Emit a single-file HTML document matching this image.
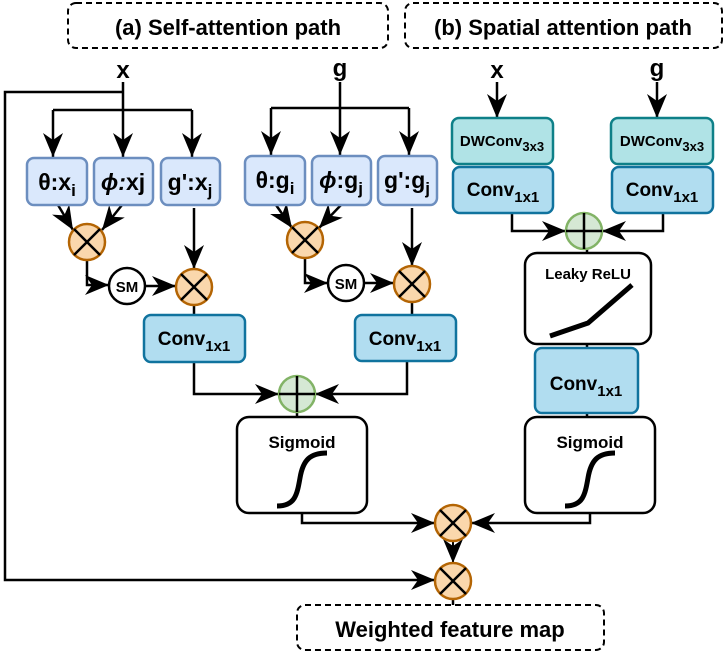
<!DOCTYPE html>
<html><head><meta charset="utf-8"><style>
html,body{margin:0;padding:0;background:#fff;}
svg{display:block;}
text{font-family:"Liberation Sans",sans-serif;font-weight:bold;fill:#000;}
</style></head><body>
<svg width="725" height="654" viewBox="0 0 725 654" xmlns="http://www.w3.org/2000/svg">
<defs>
<marker id="a" viewBox="0 0 24 22" refX="24" refY="11" markerWidth="24" markerHeight="22" orient="auto" markerUnits="userSpaceOnUse">
<path d="M0,1 L24,11 L0,21 L7,11 Z" fill="#000"/>
</marker>
</defs>
<g fill="none" stroke="#000" stroke-width="2.5">
<rect x="68" y="3" width="320" height="45" rx="8" stroke-dasharray="6,4" stroke-width="2"/>
<rect x="405" y="3" width="317" height="45" rx="8" stroke-dasharray="6,4" stroke-width="2"/>
<rect x="297" y="605" width="307" height="45" rx="8" stroke-dasharray="6,4" stroke-width="2"/>
<path d="M123,82 V157" marker-end="url(#a)"/>
<path d="M123,92 H5 V580 H435" marker-end="url(#a)"/>
<path d="M53,110 H192"/>
<path d="M53,110 V157" marker-end="url(#a)"/>
<path d="M192,110 V157" marker-end="url(#a)"/>
<path d="M340,82 V155" marker-end="url(#a)"/>
<path d="M271,108 H409"/>
<path d="M271,108 V155" marker-end="url(#a)"/>
<path d="M409,108 V155" marker-end="url(#a)"/>
<path d="M58,205 L73,230" marker-end="url(#a)"/>
<path d="M122,205 L102,230" marker-end="url(#a)"/>
<path d="M194,208 V269" marker-end="url(#a)"/>
<path d="M87,260 V285 H109" marker-end="url(#a)"/>
<path d="M145,286 H176" marker-end="url(#a)"/>
<path d="M194,305 V315"/>
<path d="M194,362 V394 H279" marker-end="url(#a)"/>
<path d="M276,205 L292,228" marker-end="url(#a)"/>
<path d="M341,205 L319,228" marker-end="url(#a)"/>
<path d="M412,208 V266" marker-end="url(#a)"/>
<path d="M305,258 V283 H328" marker-end="url(#a)"/>
<path d="M364,283 H394" marker-end="url(#a)"/>
<path d="M412,302 V315"/>
<path d="M407,361 V394 H315" marker-end="url(#a)"/>
<path d="M297,412 V417"/>
<path d="M302,513 V523 H435" marker-end="url(#a)"/>
<path d="M590,513 V523 H471" marker-end="url(#a)"/>
<path d="M453,541 V563" marker-end="url(#a)" stroke-width="2"/>
<path d="M453,599 V605"/>
<path d="M497,82 V118" marker-end="url(#a)"/>
<path d="M657,82 V118" marker-end="url(#a)"/>
<path d="M512,213 V231 H566" marker-end="url(#a)"/>
<path d="M663,213 V231 H602" marker-end="url(#a)"/>
<path d="M587,249 V253"/>
<path d="M587,344 V348"/>
<path d="M587,413 V417"/>
</g>
<g fill="#dae8fc" stroke="#6c8ebf" stroke-width="2.5">
<rect x="27" y="158" width="60" height="47" rx="7"/>
<rect x="94" y="158" width="59" height="47" rx="7"/>
<rect x="161" y="158" width="59" height="47" rx="7"/>
<rect x="245" y="156" width="60" height="49" rx="7"/>
<rect x="312" y="156" width="59" height="49" rx="7"/>
<rect x="378" y="156" width="59" height="49" rx="7"/>
</g>
<g fill="#b1ddf0" stroke="#10739e" stroke-width="2.5">
<rect x="144" y="315" width="101" height="47" rx="7"/>
<rect x="355" y="315" width="101" height="46" rx="7"/>
<rect x="453" y="167" width="100" height="46" rx="7"/>
<rect x="612" y="167" width="101" height="46" rx="7"/>
<rect x="535" y="348" width="103" height="65" rx="7"/>
</g>
<g fill="#b0e3e6" stroke="#0e8088" stroke-width="2.5">
<rect x="452" y="118" width="101" height="46" rx="7"/>
<rect x="611" y="118" width="102" height="46" rx="7"/>
</g>
<g fill="#fff" stroke="#000" stroke-width="2.5">
<rect x="237" y="417" width="130" height="96" rx="12"/>
<rect x="525" y="417" width="130" height="96" rx="12"/>
<rect x="525" y="253" width="126" height="91" rx="12"/>
<circle cx="127" cy="286" r="18"/>
<circle cx="346" cy="283" r="18"/>
</g>
<g fill="none" stroke="#000" stroke-width="5">
<path d="M277,506 C295,506 297,495 300,478 C303,460 310,453 327,453"/>
<path d="M565,506 C583,506 585,495 588,478 C591,460 598,453 615,453"/>
<path d="M550,336 L588,323 L632,285"/>
</g>
<g stroke="#b46504" stroke-width="2.5" fill="#fad7ac">
<circle cx="87" cy="242" r="18"/>
<circle cx="194" cy="287" r="18"/>
<circle cx="305" cy="240" r="18"/>
<circle cx="412" cy="284" r="18"/>
<circle cx="453" cy="523" r="18"/>
<circle cx="453" cy="581" r="18"/>
</g>
<g stroke="#000" stroke-width="2.5">
<path d="M74,229 L100,255 M100,229 L74,255"/>
<path d="M181,274 L207,300 M207,274 L181,300"/>
<path d="M292,227 L318,253 M318,227 L292,253"/>
<path d="M399,271 L425,297 M425,271 L399,297"/>
<path d="M440,510 L466,536 M466,510 L440,536"/>
<path d="M440,568 L466,594 M466,568 L440,594"/>
</g>
<g stroke="#82b366" stroke-width="2.5" fill="#d5e8d4">
<circle cx="297" cy="394" r="18"/>
<circle cx="584" cy="231" r="18"/>
</g>
<g stroke="#000" stroke-width="2.5">
<path d="M297,376 V412 M279,394 H315"/>
<path d="M584,213 V249 M566,231 H602"/>
</g>
<text x="228" y="35" font-size="22" text-anchor="middle">(a) Self-attention path</text>
<text x="563" y="35" font-size="22" text-anchor="middle">(b) Spatial attention path</text>
<text x="450" y="637" font-size="22" text-anchor="middle">Weighted feature map</text>
<text x="123" y="78" font-size="24" text-anchor="middle">x</text>
<text x="340" y="76" font-size="24" text-anchor="middle">g</text>
<text x="497" y="78" font-size="24" text-anchor="middle">x</text>
<text x="657" y="76" font-size="24" text-anchor="middle">g</text>
<text x="57" y="190" font-size="23" text-anchor="middle">θ:x<tspan font-size="17" dy="6">i</tspan></text>
<text x="123" y="190" font-size="23" text-anchor="middle"><tspan font-style="italic">ϕ:</tspan>xj</text>
<text x="190" y="190" font-size="23" text-anchor="middle">g':x<tspan font-size="17" dy="6">j</tspan></text>
<text x="275" y="188" font-size="23" text-anchor="middle">θ:g<tspan font-size="17" dy="6">i</tspan></text>
<text x="341" y="188" font-size="23" text-anchor="middle"><tspan font-style="italic">ϕ</tspan>:g<tspan font-size="17" dy="6">j</tspan></text>
<text x="407" y="188" font-size="23" text-anchor="middle">g':g<tspan font-size="17" dy="6">j</tspan></text>
<text x="127" y="292" font-size="15" text-anchor="middle">SM</text>
<text x="346" y="289" font-size="15" text-anchor="middle">SM</text>
<text x="194" y="345" font-size="19" text-anchor="middle">Conv<tspan font-size="15" dy="6">1x1</tspan></text>
<text x="405" y="345" font-size="19" text-anchor="middle">Conv<tspan font-size="15" dy="6">1x1</tspan></text>
<text x="503" y="196" font-size="19" text-anchor="middle">Conv<tspan font-size="15" dy="6">1x1</tspan></text>
<text x="662" y="196" font-size="19" text-anchor="middle">Conv<tspan font-size="15" dy="6">1x1</tspan></text>
<text x="586" y="390" font-size="19" text-anchor="middle">Conv<tspan font-size="15" dy="6">1x1</tspan></text>
<text x="502" y="146" font-size="15" text-anchor="middle">DWConv<tspan font-size="13" dy="5">3x3</tspan></text>
<text x="662" y="146" font-size="15" text-anchor="middle">DWConv<tspan font-size="13" dy="5">3x3</tspan></text>
<text x="588" y="279" font-size="15" text-anchor="middle">Leaky ReLU</text>
<text x="302" y="448" font-size="17" text-anchor="middle">Sigmoid</text>
<text x="590" y="448" font-size="17" text-anchor="middle">Sigmoid</text>
</svg>
</body></html>
